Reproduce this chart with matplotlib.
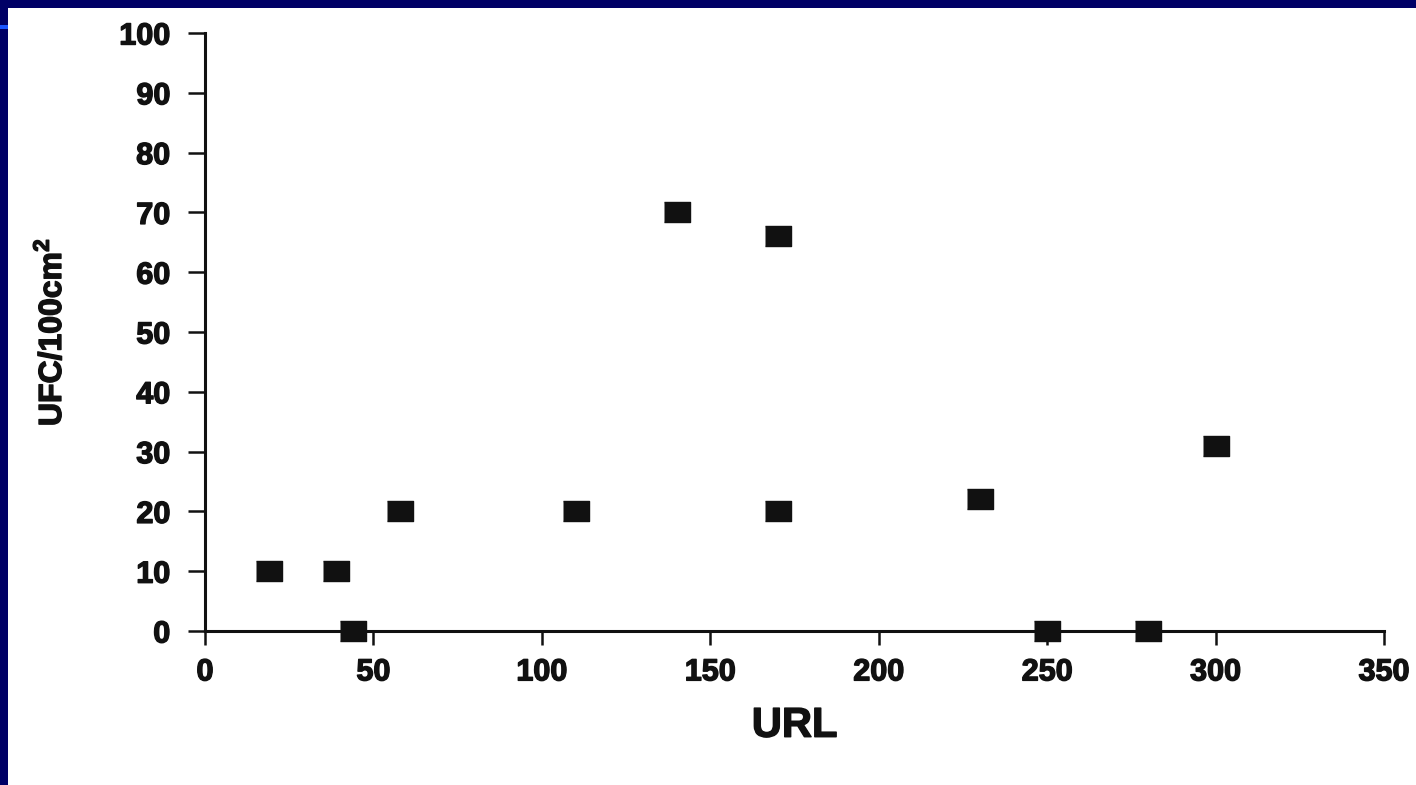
import numpy as np
import matplotlib
matplotlib.use("Agg")
import matplotlib.pyplot as plt
import matplotlib.patheffects as pe
from matplotlib.patches import Rectangle

plt.rcParams["font.family"] = ["Liberation Sans", "DejaVu Sans"]
plt.rcParams["font.weight"] = "bold"
plt.rcParams["mathtext.fontset"] = "custom"
plt.rcParams["mathtext.rm"] = "Liberation Sans:bold"
plt.rcParams["mathtext.bf"] = "Liberation Sans:bold"

# valeurs
url = [19, 39, 44, 58, 110, 140, 170, 170, 230, 250, 280, 300]
ufc = [10, 10, 0, 20, 20, 70, 66, 20, 22, 0, 0, 31]
x_ticks = [0, 50, 100, 150, 200, 250, 300, 350]
y_ticks = [0, 10, 20, 30, 40, 50, 60, 70, 80, 90, 100]

W, H = 1416, 785
fig = plt.figure(figsize=(W / 100, H / 100), dpi=100)
fig.patch.set_facecolor("white")

# bandes bleu marine du modèle de diapo
navy = "#000066"
fig.patches.append(Rectangle((0, 1 - 8 / H), 1, 8 / H, transform=fig.transFigure,
                             facecolor=navy, edgecolor="none"))
fig.patches.append(Rectangle((0, 0), 8 / W, 1, transform=fig.transFigure,
                             facecolor=navy, edgecolor="none"))
fig.patches.append(Rectangle((0, 1 - 29 / H), 8 / W, 4 / H, transform=fig.transFigure,
                             facecolor="#1a55ff", edgecolor="none"))

ax = fig.add_axes([205 / W, 1 - 631 / H, 1179 / W, 598 / H])

# marqueur rectangulaire (plus large que haut)
rect = [(-0.5, -0.38), (0.5, -0.38), (0.5, 0.38), (-0.5, 0.38)]
ax.plot(url, ufc, linestyle="none", marker=rect, markersize=18.7,
        color="#111111", clip_on=False, zorder=3)

ax.set_xlim(0, 350)
ax.set_ylim(0, 100)
ax.set_xticks(x_ticks)
ax.set_yticks(y_ticks)

for s in ["top", "right"]:
    ax.spines[s].set_visible(False)
for s in ["left", "bottom"]:
    ax.spines[s].set_linewidth(2.2)
    ax.spines[s].set_color("#111111")

ax.tick_params(axis="y", length=12, width=1.8, pad=13, labelsize=22, colors="#111111")
ax.tick_params(axis="x", length=10, width=1.8, pad=9, labelsize=22, colors="#111111")

# trait un peu plus épais, comme sur le scan
thick = [pe.withStroke(linewidth=1.0, foreground="#111111")]
for lbl in ax.get_xticklabels() + ax.get_yticklabels():
    lbl.set_fontweight("bold")
    lbl.set_path_effects(thick)

ax.set_xlabel("URL", fontsize=30, fontweight="bold", color="#111111",
              path_effects=thick)
ax.xaxis.set_label_coords(0.5, -0.125)
ax.set_ylabel(r"UFC/100cm$^{2}$", fontsize=23, fontweight="bold", color="#111111",
              path_effects=thick)
ax.yaxis.set_label_coords(-0.116, 0.5)

fig.savefig("out.png", dpi=100)
